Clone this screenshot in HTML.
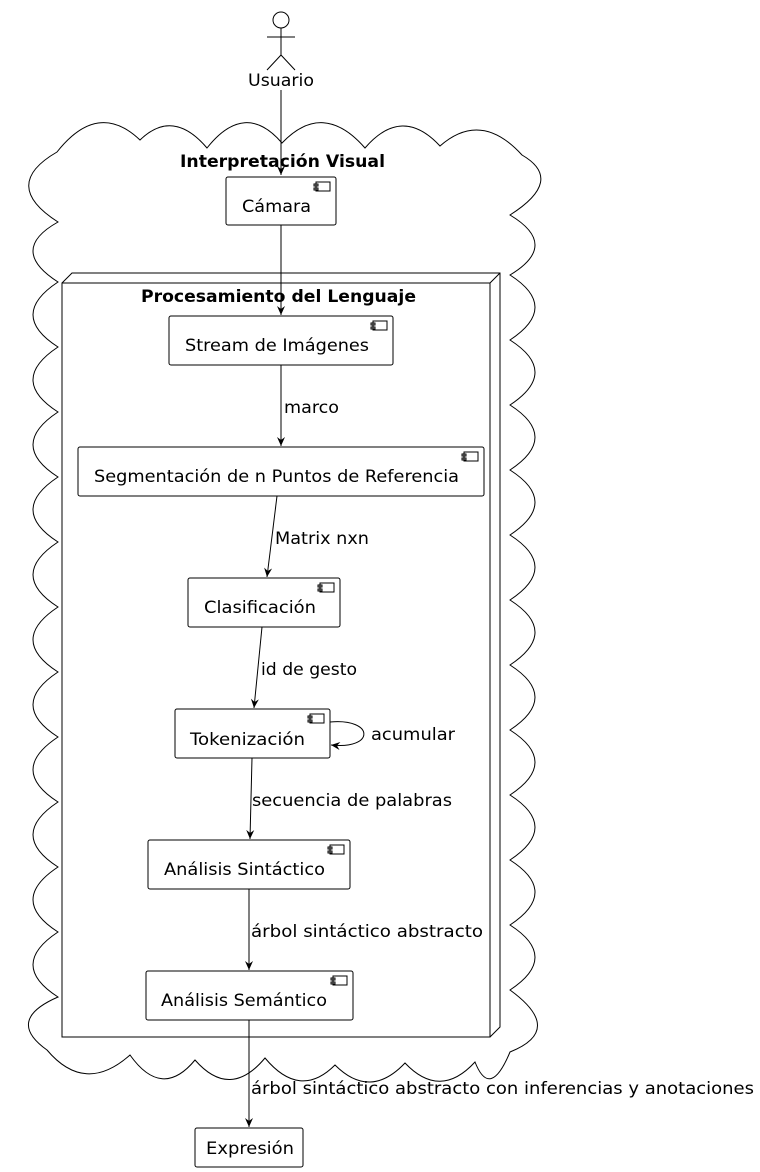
<!DOCTYPE html>
<html><head><meta charset="utf-8"><style>
html,body{margin:0;padding:0;background:#fff}
svg{display:block}
text{font-family:"DejaVu Sans","Liberation Sans",sans-serif;font-size:17px;fill:#000}
.b{font-weight:bold}
</style></head><body>
<svg width="760" height="1172" viewBox="0 0 760 1172" xmlns="http://www.w3.org/2000/svg">
<defs><marker id="a" markerWidth="10" markerHeight="10" refX="9" refY="5" orient="auto" markerUnits="userSpaceOnUse"><path d="M0,1 L9,5 L0,9 L3,5 Z" fill="#000"/></marker></defs>
<g fill="none" stroke="#000" stroke-width="1">
<path d="M57,152 Q98,100 140,140 Q173,108 207,148 Q245,100 282,143 Q323,100 365,148 Q402,105 440,146 Q481,110 522,155
Q565,180 510,215 Q560,245 510,275 Q560,307 510,340 Q560,372 510,405 Q560,437 510,470 Q560,502 510,535 Q560,567 510,600 Q560,632 510,665 Q560,697 510,730 Q560,762 510,795 Q560,827 510,860 Q560,892 510,925 Q560,957 510,990 Q565,1030 510,1052
Q490,1100 475,1062 Q440,1100 405,1063 Q370,1100 335,1065 Q300,1100 265,1058 Q230,1100 195,1060 Q162,1100 130,1055 Q85,1095 47,1050
Q5,1020 58,997 Q8,965 58,932 Q8,900 58,867 Q8,835 58,802 Q8,770 58,737 Q8,705 58,672 Q8,640 58,607 Q8,575 58,542 Q8,510 58,477 Q8,445 58,412 Q8,380 58,347 Q8,315 58,282 Q8,250 58,222 Q0,185 57,152 Z"/>
<circle cx="281" cy="20" r="8"/>
<path d="M281,28 V55 M267,37 H295 M281,55 L267,70 M281,55 L295,70"/>
<rect x="62" y="283" width="428" height="754"/>
<path d="M62,283 L72,273 H500 V1027 L490,1037 M490,283 L500,273"/>
<rect x="226" y="177" width="110" height="48" rx="2"/>
<rect x="169" y="316" width="224" height="49" rx="2"/>
<rect x="78" y="447" width="406" height="49" rx="2"/>
<rect x="188" y="578" width="152" height="49" rx="2"/>
<rect x="175" y="709" width="155" height="49" rx="2"/>
<rect x="148" y="840" width="202" height="49" rx="2"/>
<rect x="146" y="971" width="207" height="49" rx="2"/>
<rect x="195" y="1128" width="108" height="39" rx="2"/>
<path d="M316,182h14v9h-14z M314,184h4v2h-4z M314,188h4v2h-4z"/>
<path d="M373,321h14v9h-14z M371,323h4v2h-4z M371,327h4v2h-4z"/>
<path d="M464,452h14v9h-14z M462,454h4v2h-4z M462,458h4v2h-4z"/>
<path d="M320,583h14v9h-14z M318,585h4v2h-4z M318,589h4v2h-4z"/>
<path d="M310,714h14v9h-14z M308,716h4v2h-4z M308,720h4v2h-4z"/>
<path d="M330,845h14v9h-14z M328,847h4v2h-4z M328,851h4v2h-4z"/>
<path d="M333,976h14v9h-14z M331,978h4v2h-4z M331,982h4v2h-4z"/>
<path d="M281,90 V175" marker-end="url(#a)"/>
<path d="M281,225 V315" marker-end="url(#a)"/>
<path d="M281,365 V446" marker-end="url(#a)"/>
<path d="M277,496 L267,577" marker-end="url(#a)"/>
<path d="M262,627 L254,708" marker-end="url(#a)"/>
<path d="M330,722 C375,718 375,750 331,745" marker-end="url(#a)"/>
<path d="M252,758 L250,839" marker-end="url(#a)"/>
<path d="M249,889 V970" marker-end="url(#a)"/>
<path d="M249,1020 V1127" marker-end="url(#a)"/>
</g>
<g lengthAdjust="spacingAndGlyphs">
<text x="248" y="86" textLength="66" lengthAdjust="spacingAndGlyphs">Usuario</text>
<text x="180" y="167" textLength="205" lengthAdjust="spacingAndGlyphs" class="b">Interpretación Visual</text>
<text x="242" y="212" textLength="69" lengthAdjust="spacingAndGlyphs">Cámara</text>
<text x="141" y="302" textLength="275" lengthAdjust="spacingAndGlyphs" class="b">Procesamiento del Lenguaje</text>
<text x="185" y="351" textLength="184" lengthAdjust="spacingAndGlyphs">Stream de Imágenes</text>
<text x="284" y="413" textLength="55" lengthAdjust="spacingAndGlyphs">marco</text>
<text x="94" y="482" textLength="365" lengthAdjust="spacingAndGlyphs">Segmentación de n Puntos de Referencia</text>
<text x="275" y="544" textLength="94" lengthAdjust="spacingAndGlyphs">Matrix nxn</text>
<text x="204" y="613" textLength="112" lengthAdjust="spacingAndGlyphs">Clasificación</text>
<text x="261" y="675" textLength="96" lengthAdjust="spacingAndGlyphs">id de gesto</text>
<text x="190" y="745" textLength="115" lengthAdjust="spacingAndGlyphs">Tokenización</text>
<text x="371" y="740" textLength="84" lengthAdjust="spacingAndGlyphs">acumular</text>
<text x="252" y="806" textLength="200" lengthAdjust="spacingAndGlyphs">secuencia de palabras</text>
<text x="164" y="875" textLength="161" lengthAdjust="spacingAndGlyphs">Análisis Sintáctico</text>
<text x="251" y="937" textLength="232" lengthAdjust="spacingAndGlyphs">árbol sintáctico abstracto</text>
<text x="161" y="1006" textLength="166" lengthAdjust="spacingAndGlyphs">Análisis Semántico</text>
<text x="251" y="1094" textLength="503" lengthAdjust="spacingAndGlyphs">árbol sintáctico abstracto con inferencias y anotaciones</text>
<text x="206" y="1154" textLength="88" lengthAdjust="spacingAndGlyphs">Expresión</text>
</g>
</svg>
</body></html>
